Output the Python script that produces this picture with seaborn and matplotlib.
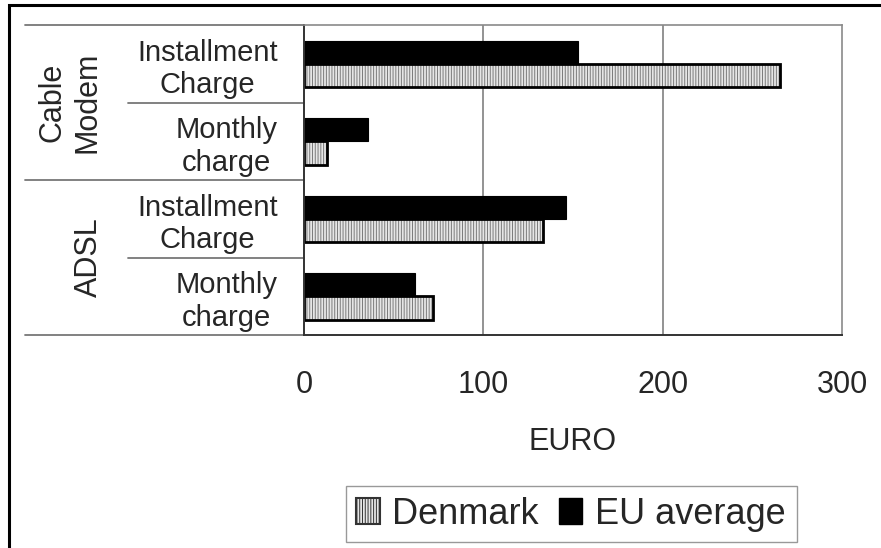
import matplotlib
matplotlib.use("Agg")
import matplotlib.pyplot as plt
import matplotlib.transforms as mtransforms
from matplotlib.patches import Patch, Rectangle
import pandas as pd
import seaborn as sns

# ---------------- DATA ----------------
groups = ["Cable\nModem", "ADSL"]
items = ["Installment\nCharge", "Monthly\ncharge",
         "Installment\nCharge", "Monthly\ncharge"]
series = ["EU average", "Denmark"]
eu_average = [153, 35.5, 146, 62]
denmark = [265.5, 13, 133, 72]
x_ticks = [0, 100, 200, 300]
x_label = "EURO"

sns.set_style("white")
plt.rcParams["font.family"] = ["Liberation Sans", "DejaVu Sans"]
plt.rcParams["hatch.linewidth"] = 0.7

cats = [f"c{i}" for i in range(len(items))]
df = pd.DataFrame({
    "cat": cats * 2,
    "series": [series[0]] * len(cats) + [series[1]] * len(cats),
    "value": eu_average + denmark,
})

fig = plt.figure(figsize=(8.81, 5.48), dpi=100)
W, H = 881, 548
ax = fig.add_axes([304 / W, 1 - 335 / H, (842 - 304) / W, (335 - 25) / H])

sns.barplot(data=df, y="cat", x="value", hue="series", order=cats,
            hue_order=series, palette={"EU average": "black", "Denmark": "#e6e6e6"},
            width=0.6, orient="h", legend=False, ax=ax, saturation=1)

# EU bars solid black
for p in ax.containers[0]:
    p.set_edgecolor("black")
    p.set_linewidth(0.8)

# Denmark bars: fine vertical stripes + black outline
for p in ax.containers[1]:
    p.set_hatch("||||||")
    p.set_edgecolor("#7a7a7a")
    p.set_linewidth(0)
    ax.add_patch(Rectangle(p.get_xy(), p.get_width(), p.get_height(),
                           fill=False, edgecolor="black", linewidth=2, zorder=p.get_zorder() + 0.1))

ax.set_xlim(0, 300)
ax.set_ylim(len(cats) - 0.5, -0.5)
ax.set_xticks(x_ticks)
ax.set_xticklabels([str(t) for t in x_ticks], fontsize=22)
ax.set_xlabel(x_label, fontsize=22, labelpad=20)
ax.set_ylabel("")
ax.set_yticks(range(len(cats)))
ax.set_yticklabels(items, fontsize=21, multialignment="center")
ax.tick_params(axis="y", length=0, pad=19)
ax.tick_params(axis="x", direction="out", length=7, width=1, color="#555555", pad=18)

for x in x_ticks[1:-1]:
    ax.axvline(x, color="#808080", linewidth=1.2, zorder=0)

for side in ["top", "right"]:
    ax.spines[side].set_visible(True)
    ax.spines[side].set_color("#8a8a8a")
    ax.spines[side].set_linewidth(1.2)
for side in ["left", "bottom"]:
    ax.spines[side].set_color("#333333")
    ax.spines[side].set_linewidth(1.4)

# category separators to the left of the axis
trans = mtransforms.blended_transform_factory(fig.transFigure, ax.transData)
for y in [-0.5, 1.5, 3.5]:
    ax.plot([25 / W, 304 / W], [y, y], color="#777777", linewidth=1.3,
            transform=trans, clip_on=False)
for y in [0.5, 2.5]:
    ax.plot([128 / W, 304 / W], [y, y], color="#777777", linewidth=1.3,
            transform=trans, clip_on=False)

# group labels
ax.text(70 / W, 0.5, groups[0], transform=trans, rotation=90, fontsize=22,
        ha="center", va="center", multialignment="center")
ax.text(89 / W, 2.5, groups[1], transform=trans, rotation=90, fontsize=22,
        ha="center", va="center")

# legend
handles = [Patch(facecolor="#e6e6e6", edgecolor="#333333", hatch="||||||", linewidth=1.5),
           Patch(facecolor="black", edgecolor="black")]
fig.legend(handles, ["Denmark", "EU average"], loc="center",
           bbox_to_anchor=(571 / W, 1 - 514 / H), ncol=2, fontsize=26,
           frameon=True, fancybox=False, edgecolor="#808080",
           handlelength=0.65, handleheight=0.7, handletextpad=0.35,
           columnspacing=0.55, borderpad=0.3, borderaxespad=0)

# outer frame
fig.patches.append(Rectangle((9 / W, -0.05), 1.05, 1 - 5 / H + 0.05,
                             transform=fig.transFigure, fill=False,
                             edgecolor="black", linewidth=2.2))

fig.savefig("out.png", dpi=100)
